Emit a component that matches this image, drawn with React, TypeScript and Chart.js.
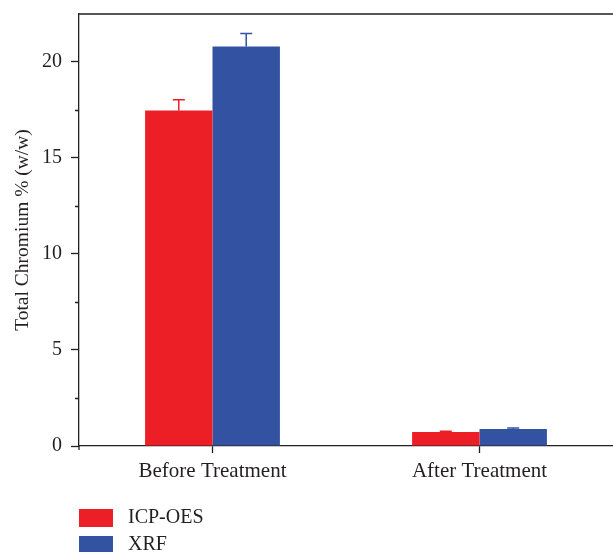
import React, { useEffect, useRef } from "react";
import { Chart, registerables } from "chart.js";

Chart.register(...registerables);

// Chromium content measured by two methods, before and after treatment
const categories = ["Before Treatment", "After Treatment"];
const icpOes = [17.45, 0.73];
const icpOesErr = [0.56, 0.04];
const xrf = [20.78, 0.88];
const xrfErr = [0.67, 0.05];
const yTickStep = 5;
const yMinorStep = 2.5;
const yMax = 22.47;

const RED = "#ED1F26";
const BLUE = "#3352A2";
const INK = "#231F20";
const FONT = "'Liberation Serif', 'Times New Roman', serif";

// Upper-only error bars with a small cap
const errorBarPlugin = {
  id: "errorBars",
  afterDatasetsDraw(chart: any) {
    const { ctx } = chart;
    const y = chart.scales.y;
    chart.data.datasets.forEach((ds: any, i: number) => {
      const meta = chart.getDatasetMeta(i);
      const errs: number[] = ds.errors || [];
      meta.data.forEach((bar: any, j: number) => {
        const v = ds.data[j];
        const e = errs[j];
        if (e == null) return;
        const top = y.getPixelForValue(v + e);
        ctx.save();
        ctx.strokeStyle = ds.backgroundColor;
        ctx.lineWidth = 1.5;
        ctx.beginPath();
        ctx.moveTo(bar.x, bar.y);
        ctx.lineTo(bar.x, top);
        ctx.moveTo(bar.x - 6, top);
        ctx.lineTo(bar.x + 6, top);
        ctx.stroke();
        ctx.restore();
      });
    });
  },
};

// Frame top line, minor y ticks and the stacked legend under the axis
const decorPlugin = {
  id: "decor",
  afterDraw(chart: any) {
    const { ctx, chartArea } = chart;
    const y = chart.scales.y;
    ctx.save();
    ctx.strokeStyle = INK;
    ctx.lineWidth = 1.3;
    ctx.beginPath();
    ctx.moveTo(chartArea.left, chartArea.top);
    ctx.lineTo(chartArea.right, chartArea.top);
    // minor ticks
    for (let v = yMinorStep; v < yMax; v += yTickStep) {
      const py = Math.round(y.getPixelForValue(v)) + 0.5;
      ctx.moveTo(chartArea.left, py);
      ctx.lineTo(chartArea.left - 4, py);
    }
    // small stub of the y axis below the x axis
    ctx.moveTo(chartArea.left, chartArea.bottom);
    ctx.lineTo(chartArea.left, chartArea.bottom + 4);
    ctx.stroke();

    // legend
    ctx.font = `20px ${FONT}`;
    ctx.textBaseline = "middle";
    ctx.fillStyle = INK;
    chart.data.datasets.forEach((ds: any, i: number) => {
      const top = chartArea.bottom + 63 + i * 27;
      ctx.fillStyle = ds.backgroundColor;
      ctx.fillRect(chartArea.left, top, 34, 18);
      ctx.fillStyle = INK;
      ctx.fillText(ds.label, chartArea.left + 49, top + 9);
    });
    ctx.restore();
  },
};

export default function App() {
  const ref = useRef<HTMLCanvasElement | null>(null);

  useEffect(() => {
    if (!ref.current) return;
    const chart = new Chart(ref.current, {
      type: "bar",
      data: {
        labels: categories,
        datasets: [
          {
            label: "ICP-OES",
            data: icpOes,
            errors: icpOesErr,
            backgroundColor: RED,
            borderWidth: 0,
          } as any,
          {
            label: "XRF",
            data: xrf,
            errors: xrfErr,
            backgroundColor: BLUE,
            borderWidth: 0,
          } as any,
        ],
      },
      options: {
        responsive: false,
        animation: false,
        layout: { padding: { top: 14, right: 0, left: 0, bottom: 0 } },
        datasets: {
          bar: { categoryPercentage: 0.505, barPercentage: 1 },
        },
        plugins: {
          legend: { display: false },
          tooltip: { enabled: false },
        },
        scales: {
          x: {
            grid: {
              display: true,
              drawOnChartArea: false,
              offset: false,
              tickLength: 7,
              tickColor: INK,
              tickWidth: 1.3,
            },
            border: { color: INK, width: 1.3 },
            ticks: {
              color: INK,
              padding: 6,
              font: { family: FONT, size: 21 },
            },
            afterFit(scale: any) {
              scale.height = 106;
              scale.paddingLeft = 0;
              scale.paddingRight = 0;
            },
          },
          y: {
            min: 0,
            max: yMax,
            grid: {
              display: true,
              drawOnChartArea: false,
              tickLength: 8,
              tickColor: INK,
              tickWidth: 1.3,
            },
            border: { color: INK, width: 1.3 },
            ticks: {
              stepSize: yTickStep,
              color: INK,
              padding: 9,
              font: { family: FONT, size: 20 },
            },
            afterBuildTicks(scale: any) {
              scale.ticks = scale.ticks.filter(
                (t: any) => Math.abs(t.value / yTickStep - Math.round(t.value / yTickStep)) < 1e-6
              );
            },
            title: {
              display: true,
              text: "Total Chromium % (w/w)",
              color: INK,
              font: { family: FONT, size: 19.5 },
              padding: { top: 11, bottom: 0 },
            },
            afterFit(scale: any) {
              scale.width = 79;
              scale.paddingTop = 0;
              scale.paddingBottom = 0;
            },
          },
        },
      },
      plugins: [errorBarPlugin, decorPlugin],
    });
    return () => chart.destroy();
  }, []);

  return (
    <canvas
      ref={ref}
      width={613}
      height={552}
      style={{ position: "absolute", left: 0, top: 0, display: "block" }}
    />
  );
}
